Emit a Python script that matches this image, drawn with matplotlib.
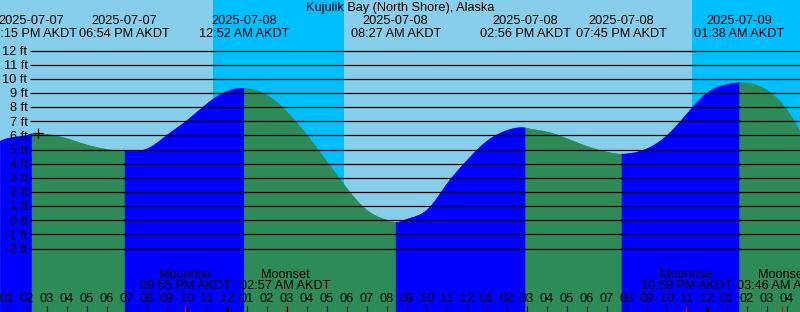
import numpy as np
import matplotlib
matplotlib.use("Agg")
import matplotlib.pyplot as plt
from matplotlib.transforms import Affine2D

W, H = 800, 312
TITLE = "Kujulik Bay (North Shore), Alaska"

# Time in hours relative to 2025-07-08 00:00 AKDT
T_START = -11 - 20 / 60
T_END = 28 + 40 / 60

# Tide extremes (labelled at top)
tide_times = [-9.75, -5.1, 52 / 60, 8 + 27 / 60, 14 + 56 / 60, 19.75, 25 + 38 / 60]
tide_heights = [6.15, 4.9, 9.35, -0.12, 6.55, 4.71, 9.75]
tide_dates = ["2025-07-07", "2025-07-07", "2025-07-08", "2025-07-08",
              "2025-07-08", "2025-07-08", "2025-07-09"]
tide_labels = ["02:15 PM AKDT", "06:54 PM AKDT", "12:52 AM AKDT", "08:27 AM AKDT",
               "02:56 PM AKDT", "07:45 PM AKDT", "01:38 AM AKDT"]

# Water level at the chart edges and at each hour tick
curve_times = [T_START] + list(range(-11, 29)) + [T_END]
curve_heights = [5.63,
                 5.8, 6.05, 6.1, 5.8, 5.35, 5.04, 4.9, 5.08, 6.05, 7.09, 8.27,
                 9.14, 9.33, 8.86, 7.68, 6.03, 4.15, 2.26, 0.73, 0.02, 0.1, 0.76,
                 2.6, 4.26, 5.63, 6.38, 6.53, 6.27, 5.8, 5.25, 4.85, 4.73, 5.09,
                 6.03, 7.56, 9.02, 9.63, 9.73, 9.21, 7.8,
                 6.27]

# Sun (night shading)
sunset_times = [-41 / 60, 23 + 16 / 60]
sunrise_times = [5 + 52 / 60, 29 + 50 / 60]

# Moon events
moon_times = [-2 - 5 / 60, 2 + 57 / 60, 22 + 59 / 60, 27 + 46 / 60]
moon_kinds = ["Moonrise", "Moonset", "Moonrise", "Moonset"]
moon_labels = ["09:55 PM AKDT", "02:57 AM AKDT", "10:59 PM AKDT", "03:46 AM AKDT"]

now_time = -9.45
grid_levels = list(range(-2, 13))

# colours
DAY = "#87CEEB"
NIGHT = "#00BFFF"
RISING = "#0000FF"
FALLING = "#2E8B57"

# pixel calibration
PX_PER_FT = 14.143
ZERO_Y = 220.3
PX_PER_H = 20.0
X_MID = 226.67


def cubic_spline(x, y, xn):
    """Natural cubic spline through the read points (smooth drawing only)."""
    x = np.asarray(x, float)
    y = np.asarray(y, float)
    n = len(x)
    h = np.diff(x)
    A = np.zeros((n, n))
    b = np.zeros(n)
    A[0, 0] = 1
    A[-1, -1] = 1
    for i in range(1, n - 1):
        A[i, i - 1] = h[i - 1]
        A[i, i] = 2 * (h[i - 1] + h[i])
        A[i, i + 1] = h[i]
        b[i] = 3 * ((y[i + 1] - y[i]) / h[i] - (y[i] - y[i - 1]) / h[i - 1])
    c = np.linalg.solve(A, b)
    bb = (y[1:] - y[:-1]) / h - h * (2 * c[:-1] + c[1:]) / 3
    d = (c[1:] - c[:-1]) / (3 * h)
    xn = np.asarray(xn, float)
    i = np.clip(np.searchsorted(x, xn) - 1, 0, n - 2)
    dx = xn - x[i]
    return y[i] + bb[i] * dx + c[i] * dx**2 + d[i] * dx**3


pts = sorted(zip(list(curve_times) + list(tide_times),
                 list(curve_heights) + list(tide_heights)))
pt_t = [p[0] for p in pts]
pt_h = [p[1] for p in pts]


def level(t):
    return cubic_spline(pt_t, pt_h, t)


fig = plt.figure(figsize=(W / 100, H / 100), dpi=100)
ax = fig.add_axes([0, 0, 1, 1])
y_bot = (ZERO_Y - H) / PX_PER_FT
y_top = ZERO_Y / PX_PER_FT
ax.set_xlim(T_START, T_END)
ax.set_ylim(y_bot, y_top)
ax.axis("off")
fig.patch.set_facecolor(DAY)
ax.axvspan(T_START, T_END, color=DAY, lw=0, zorder=0)
for a, b in zip(sunset_times, sunrise_times):
    ax.axvspan(a, b, color=NIGHT, lw=0, zorder=0.5)

# fill under the curve, blue while rising, green while falling
bounds = [T_START] + [t for t in tide_times if T_START < t < T_END] + [T_END]
for a, b in zip(bounds[:-1], bounds[1:]):
    tt = np.linspace(a, b, 400)
    hh = level(tt)
    col = RISING if hh[-1] > hh[0] else FALLING
    ax.fill_between(tt, y_bot, hh, color=col, lw=0.6, edgecolor=col, zorder=1)

# grid lines and their labels
px = Affine2D().scale(1 / W, -1 / H).translate(0, 1) + fig.transFigure
ytr = ax.get_yaxis_transform()
FS = 9.2
FAM = "Liberation Sans"
for lv in grid_levels:
    ax.plot([29.5 / W, 1], [lv, lv], color="black", lw=0.9, transform=ytr, zorder=3,
            solid_capstyle="butt")
    ypx = ZERO_Y - lv * PX_PER_FT
    fig.text(27.5, ypx + 4.3, f"{lv} ft", transform=px, ha="right", va="baseline",
             fontsize=FS, family=FAM, color="black")

# now marker
ax.plot([now_time], [level(now_time)], marker="+", color="black", ms=7.5, mew=0.9,
        zorder=4)


def tx(t):
    return X_MID + PX_PER_H * t


fig.text(400, 11.5, TITLE, transform=px, ha="center", va="baseline", fontsize=FS,
         family=FAM)
for t, dstr, lab in zip(tide_times, tide_dates, tide_labels):
    fig.text(tx(t), 24, dstr, transform=px, ha="center", va="baseline", fontsize=FS,
             family=FAM)
    fig.text(tx(t), 36.6, lab, transform=px, ha="center", va="baseline", fontsize=FS,
             family=FAM)
for t, kind, lab in zip(moon_times, moon_kinds, moon_labels):
    fig.text(tx(t), 277.6, kind, transform=px, ha="center", va="baseline", fontsize=FS,
             family=FAM)
    fig.text(tx(t), 289.4, lab, transform=px, ha="center", va="baseline", fontsize=FS,
             family=FAM)

# hour ticks and labels
tick_lo = y_bot
tick_hi = (ZERO_Y - 305.5) / PX_PER_FT
for hr in range(-11, 29):
    hod = hr % 24
    lab = f"{(hod - 1) % 12 + 1:02d}"
    fig.text(tx(hr), 301.6, lab, transform=px, ha="center", va="baseline", fontsize=FS,
             family=FAM)
    wide = hod == 0
    ax.plot([hr, hr], [tick_lo, tick_hi], color="black", lw=2.2 if wide else 0.8,
            zorder=5, solid_capstyle="butt")
for t in moon_times:
    ax.plot([t, t], [tick_lo, tick_hi], color="red", lw=0.8, zorder=6,
            solid_capstyle="butt")

fig.savefig("out.png", dpi=100, facecolor=DAY)
